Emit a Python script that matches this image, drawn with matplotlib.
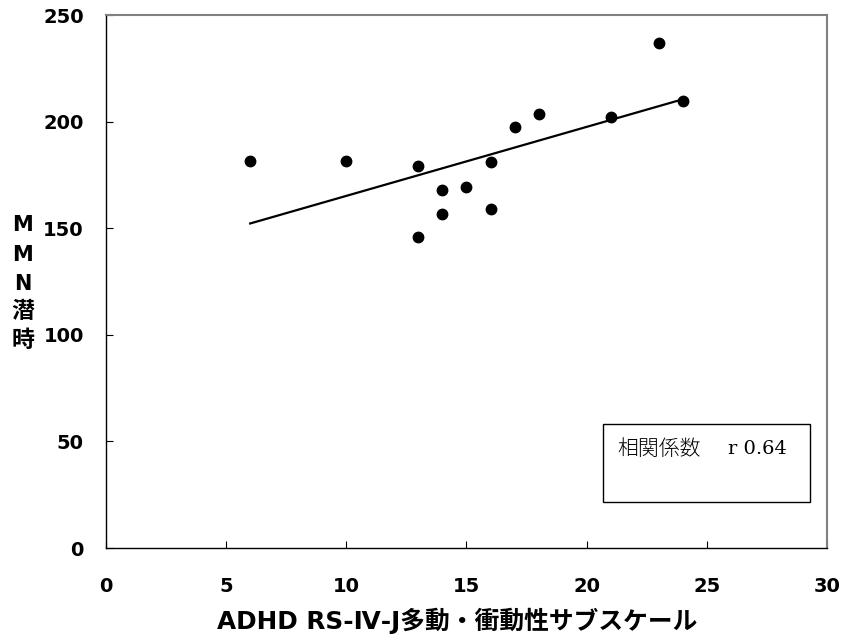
import numpy as np
import matplotlib
matplotlib.use("Agg")
import matplotlib.pyplot as plt
from matplotlib.patches import Rectangle

plt.rcParams['font.family'] = ['DejaVu Sans', 'Noto Sans CJK JP']

# Data
hyperactivity = [6, 10, 13, 13, 14, 14, 15, 16, 16, 17, 18, 21, 23, 24]
mmn_latency = [181.5, 181.5, 179, 146, 168, 156.5, 169.5, 181, 159, 197.5, 203.5, 202, 237, 209.5]
x_ticks = [0, 5, 10, 15, 20, 25, 30]
y_ticks = [0, 50, 100, 150, 200, 250]
x_label = "ADHD RS-Ⅳ-J多動・衝動性サブスケール"
y_label_chars = ["M", "M", "N", "潜", "時"]
corr_label = "相関係数"
corr_value = "r 0.64"

W, H = 845, 638
fig = plt.figure(figsize=(W / 100, H / 100), dpi=100)
ax = fig.add_axes([0.1254, 0.141, 0.8533, 0.8354])

x = np.array(hyperactivity)
y = np.array(mmn_latency)
ax.plot(x, y, 'o', color='black', ms=7.5, zorder=3)

slope, intercept = np.polyfit(x, y, 1)
xl = np.array([x.min(), x.max()])
ax.plot(xl, slope * xl + intercept, color='black', lw=1.6, zorder=2)

ax.set_xlim(0, 30)
ax.set_ylim(0, 250)
ax.set_xticks(x_ticks)
ax.set_yticks(y_ticks)
ax.tick_params(axis='both', direction='in', length=5, width=0.8,
               labelsize=14)
ax.tick_params(axis='x', pad=21)
ax.tick_params(axis='y', pad=16)
for lab in ax.get_xticklabels() + ax.get_yticklabels():
    lab.set_fontweight('bold')

for s in ['left', 'bottom']:
    ax.spines[s].set_color('black')
    ax.spines[s].set_linewidth(1.0)
for s in ['top', 'right']:
    ax.spines[s].set_color('#808080')
    ax.spines[s].set_linewidth(1.5)

fig.text(457 / W, 1 - 621 / H, x_label, ha='center', va='center',
         fontsize=17.8, fontweight='bold')

# vertical stacked y label
y_centers = [225, 255, 284, 312, 340]
for ch, yc in zip(y_label_chars, y_centers):
    is_latin = ch.isascii()
    fig.text(23 / W, 1 - yc / H, ch, ha='center', va='center',
             fontsize=15 if is_latin else 16.5, fontweight='bold')

# correlation box
bx0, by0, bx1, by1 = 603, 424, 810, 502
fig.patches.append(Rectangle((bx0 / W, 1 - by1 / H), (bx1 - bx0) / W,
                             (by1 - by0) / H, transform=fig.transFigure,
                             fill=False, edgecolor='black', lw=1.0))
fig.text(617 / W, 1 - 449 / H, corr_label, ha='left', va='center',
         fontsize=15, family=['Noto Sans CJK JP'], fontweight='light')
fig.text(728 / W, 1 - 449 / H, corr_value, ha='left', va='center',
         fontsize=14, family='DejaVu Serif')

fig.savefig("out.png", dpi=100)
